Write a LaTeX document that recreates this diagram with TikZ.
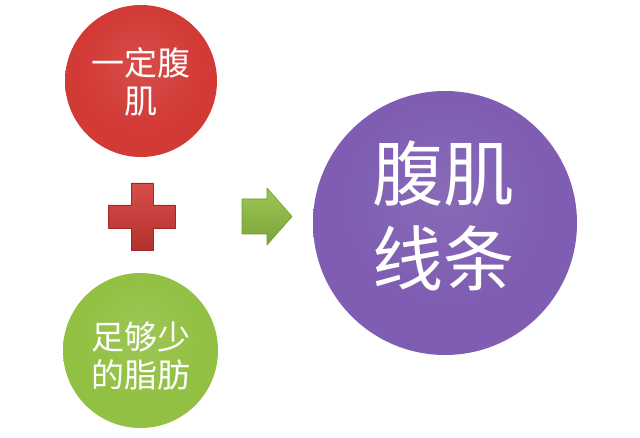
\documentclass[tikz,border=0pt]{standalone}
\usepackage{fontspec}
\newfontfamily\cjk{Noto Sans CJK SC}
\definecolor{redin}{HTML}{D23A36}
\definecolor{redout}{HTML}{A82420}
\definecolor{grnin}{HTML}{92C043}
\definecolor{grnout}{HTML}{6E9A2A}
\definecolor{purin}{HTML}{7E5DB2}
\definecolor{purout}{HTML}{5E4290}
\pgfdeclareradialshading{redball}{\pgfpoint{0bp}{6bp}}{color(0bp)=(redin!90!white); color(20bp)=(redin); color(44bp)=(redin); color(50bp)=(redout)}
\pgfdeclareradialshading{grnball}{\pgfpoint{0bp}{6bp}}{color(0bp)=(grnin!90!white); color(20bp)=(grnin); color(44bp)=(grnin); color(50bp)=(grnout)}
\pgfdeclareradialshading{purball}{\pgfpoint{0bp}{6bp}}{color(0bp)=(purin!92!white); color(20bp)=(purin); color(44bp)=(purin); color(50bp)=(purout)}
\tikzset{
  ball/.style={circle, inner sep=0pt, draw=none},
  smalltext/.style={text=white, align=center, font=\cjk\fontsize{33}{38}\selectfont},
  bigtext/.style={text=white, align=center, font=\cjk\fontsize{71}{85}\selectfont},
  sign/.style={line width=0.6pt, line join=round}
}
\begin{document}
\begin{tikzpicture}[x=1pt,y=-1pt]
\useasboundingbox (0,0) rectangle (640,438);
\fill[white] (0,0) rectangle (640,438);
% circles
\node[ball, minimum size=152pt, shading=redball] (red) at (141,81) {};
\node[ball, minimum size=155pt, shading=grnball] (grn) at (140.5,350.5) {};
\node[ball, minimum size=264pt, shading=purball] (pur) at (445,223) {};
% texts
\node[smalltext] (redtxt) at ([yshift=-1pt]red.center) {一定腹\\肌};
\node[smalltext] (grntxt) at ([yshift=-5pt]grn.center) {足够少\\的脂肪};
\node[bigtext] (purtxt) at ([yshift=7pt,xshift=-2pt]pur.center) {腹肌\\线条};
% plus sign
\shade[sign, draw=redout, top color=redin!90!white, bottom color=redin!85!black]
  (131,183) -- (153,183) -- (153,205) -- (175,205) -- (175,228) -- (153,228)
  -- (153,250) -- (131,250) -- (131,228) -- (108,228) -- (108,205) -- (131,205) -- cycle;
% arrow
\shade[sign, draw=grnout, top color=grnin!90!white, bottom color=grnin!85!black]
  (242,199) -- (267,199) -- (267,188) -- (292,216.5) -- (267,245) -- (267,234)
  -- (242,234) -- cycle;
\end{tikzpicture}
\end{document}
